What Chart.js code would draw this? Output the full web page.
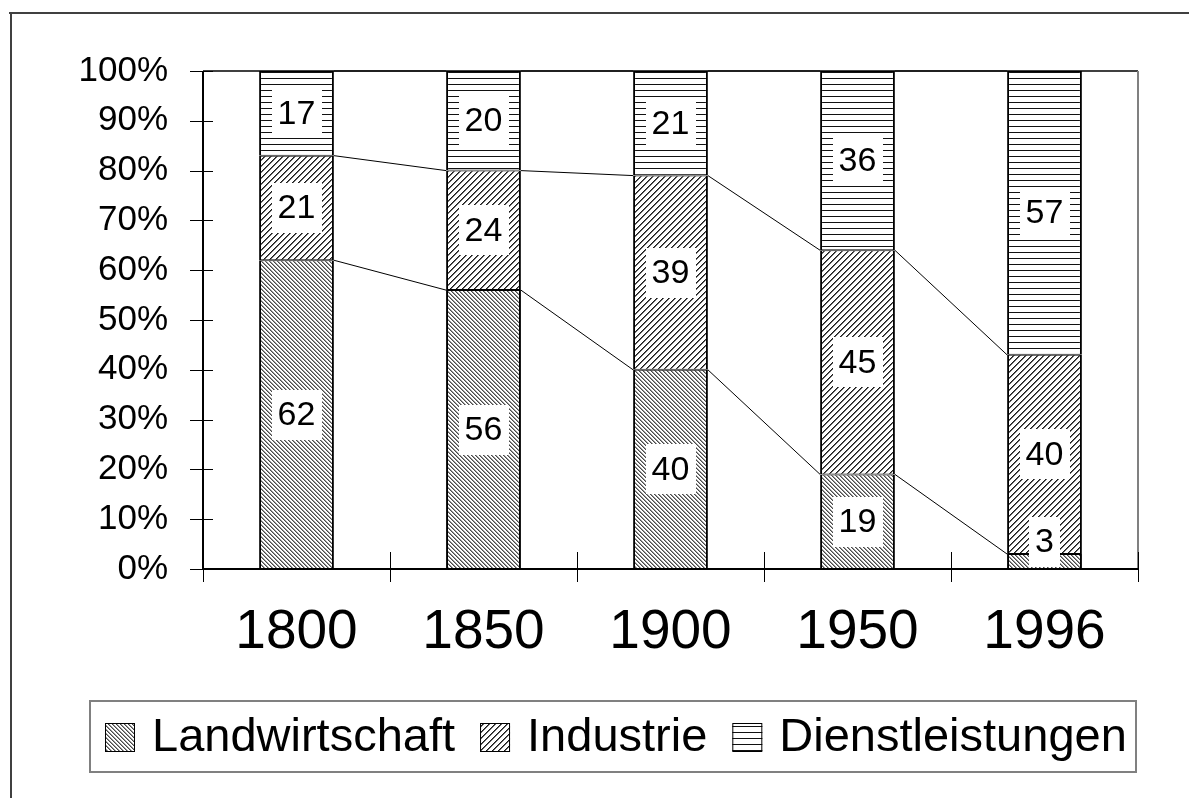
<!DOCTYPE html>
<html>
<head>
<meta charset="utf-8">
<script src="https://cdn.jsdelivr.net/npm/chart.js@4"></script>
<style>
html,body{margin:0;padding:0;background:#fff;}
#wrap{position:relative;width:1189px;height:798px;}
</style>
</head>
<body>
<div id="wrap"><canvas id="c" width="1189" height="798"></canvas></div>
<script>
const categories = ['1800', '1850', '1900', '1950', '1996'];
const landwirtschaft = [62, 56, 40, 19, 3];
const industrie = [21, 24, 39, 45, 40];
const dienstleistungen = [17, 20, 21, 36, 57];
const seriesNames = ['Landwirtschaft', 'Industrie', 'Dienstleistungen'];

const FONT = '"Liberation Sans", Arial, Helvetica, sans-serif';

function makePattern(size, fn) {
  const c = document.createElement('canvas');
  c.width = size; c.height = size;
  const g = c.getContext('2d');
  g.fillStyle = '#fff';
  g.fillRect(0, 0, size, size);
  for (let y = 0; y < size; y++) {
    for (let x = 0; x < size; x++) {
      const col = fn(x, y);
      if (col) { g.fillStyle = col; g.fillRect(x, y, 1, 1); }
    }
  }
  return g.createPattern(c, 'repeat');
}
const patLand = makePattern(4, (x, y) => {
  const m = ((x - y) % 4 + 4) % 4;
  return m === 0 ? '#4a4a4a' : (m === 1 ? '#999' : null);
});
const patInd = makePattern(6, (x, y) => {
  const m = (x + y) % 6;
  return m === 0 ? '#1a1a1a' : (m === 1 ? '#666' : null);
});
const patDienst = makePattern(6, (x, y) => (y % 6 === 0 ? '#111' : null));

const decorPlugin = {
  id: 'decor',
  beforeDraw(chart) {
    const c = chart.ctx;
    c.save();
    c.strokeStyle = '#404040';
    c.lineWidth = 2;
    c.beginPath();
    c.moveTo(9, 13); c.lineTo(1189, 13);
    c.moveTo(11, 13); c.lineTo(11, 798);
    c.stroke();
    c.restore();
  },
  afterDatasetsDraw(chart) {
    const c = chart.ctx;
    const area = chart.chartArea;
    const xs = chart.scales.x, ys = chart.scales.y;
    c.save();
    // plot border top / right
    c.strokeStyle = '#000';
    c.lineWidth = 1.5;
    c.beginPath();
    c.moveTo(area.left, area.top); c.lineTo(area.right, area.top);
    c.stroke();
    c.strokeStyle = '#808080';
    c.lineWidth = 2;
    c.beginPath();
    c.moveTo(area.right, area.top); c.lineTo(area.right, area.bottom);
    c.stroke();
    // axes lines
    c.strokeStyle = '#000';
    c.lineWidth = 2;
    c.beginPath();
    c.moveTo(area.left, area.top); c.lineTo(area.left, area.bottom);
    c.moveTo(area.left, area.bottom); c.lineTo(area.right, area.bottom);
    c.stroke();
    // y ticks (cross)
    c.lineWidth = 1;
    c.beginPath();
    ys.ticks.forEach(t => {
      const y = Math.round(ys.getPixelForValue(t.value)) + 0.5;
      c.moveTo(area.left - 13, y); c.lineTo(area.left + 10, y);
    });
    // x ticks at category boundaries (cross)
    const n = categories.length;
    const step = xs.getPixelForValue(1) - xs.getPixelForValue(0);
    for (let i = 0; i <= n; i++) {
      let x;
      if (i < n) x = xs.getPixelForValue(i) - step / 2;
      else x = xs.getPixelForValue(n - 1) + step / 2;
      x = Math.round(x) + 0.5;
      c.moveTo(x, area.bottom - 17); c.lineTo(x, area.bottom + 13);
    }
    c.stroke();

    // series lines
    const metas = chart.data.datasets.map((d, i) => chart.getDatasetMeta(i));
    c.strokeStyle = '#000';
    c.lineWidth = 1;
    c.beginPath();
    metas.forEach(meta => {
      for (let i = 0; i < meta.data.length - 1; i++) {
        const pa = meta.data[i].getProps(['x', 'y', 'width'], true);
        const pb = meta.data[i + 1].getProps(['x', 'y', 'width'], true);
        c.moveTo(pa.x + pa.width / 2, pa.y);
        c.lineTo(pb.x - pb.width / 2, pb.y);
      }
    });
    c.stroke();

    // data labels
    c.font = '34px ' + FONT;
    c.textAlign = 'center';
    c.textBaseline = 'middle';
    metas.forEach((meta, di) => {
      const vals = chart.data.datasets[di].data;
      meta.data.forEach((el, i) => {
        const p = el.getProps(['x', 'y', 'base'], true);
        const txt = String(vals[i]);
        const tw = c.measureText(txt).width;
        const bw = tw + 12, bh = 50;
        let cy = (p.y + p.base) / 2;
        if (cy + bh / 2 > area.bottom - 2) cy = area.bottom - 2 - bh / 2;
        if (cy - bh / 2 < area.top + 2) cy = area.top + 2 + bh / 2;
        c.fillStyle = '#fff';
        c.fillRect(Math.round(p.x - bw / 2), Math.round(cy - bh / 2), Math.round(bw), bh);
        c.fillStyle = '#000';
        c.fillText(txt, p.x, cy + 1);
      });
    });

    // legend
    c.strokeStyle = '#808080';
    c.lineWidth = 2;
    c.strokeRect(90, 701, 1046, 71);
    c.font = '47px ' + FONT;
    c.textAlign = 'left';
    c.textBaseline = 'middle';
    let lx = 105;
    chart.data.datasets.forEach(ds => {
      c.fillStyle = ds.backgroundColor;
      c.fillRect(lx, 723, 30, 29);
      c.strokeStyle = '#000';
      c.lineWidth = 1;
      c.strokeRect(lx + 0.5, 723.5, 29, 28);
      c.fillStyle = '#000';
      c.fillText(ds.label, lx + 47, 738);
      lx += 47 + c.measureText(ds.label).width + 25;
    });
    c.restore();
  }
};

new Chart(document.getElementById('c'), {
  type: 'bar',
  data: {
    labels: categories,
    datasets: [
      { label: seriesNames[0], data: landwirtschaft, backgroundColor: patLand },
      { label: seriesNames[1], data: industrie, backgroundColor: patInd },
      { label: seriesNames[2], data: dienstleistungen, backgroundColor: patDienst }
    ].map(d => Object.assign(d, {
      borderColor: '#000',
      borderWidth: { top: 1, bottom: 1, left: 2, right: 2 },
      borderSkipped: false,
      barPercentage: 0.4,
      categoryPercentage: 1.0
    }))
  },
  options: {
    responsive: false,
    animation: false,
    layout: { padding: { left: 0, top: 71, right: 51, bottom: 129 } },
    plugins: { legend: { display: false }, tooltip: { enabled: false }, title: { display: false } },
    scales: {
      x: {
        stacked: true,
        grid: { display: false, drawTicks: false },
        border: { display: false },
        ticks: { color: '#000', font: { family: FONT, size: 55 }, padding: 31, maxRotation: 0 },
        afterFit(s) { s.height = 100; }
      },
      y: {
        stacked: true,
        min: 0, max: 100,
        grid: { display: false, drawTicks: false },
        border: { display: false },
        ticks: { color: '#000', stepSize: 10, font: { family: FONT, size: 35 }, padding: 35,
          callback: v => v + '%' },
        afterFit(s) { s.width = 203; }
      }
    }
  },
  plugins: [decorPlugin]
});
</script>
</body>
</html>
